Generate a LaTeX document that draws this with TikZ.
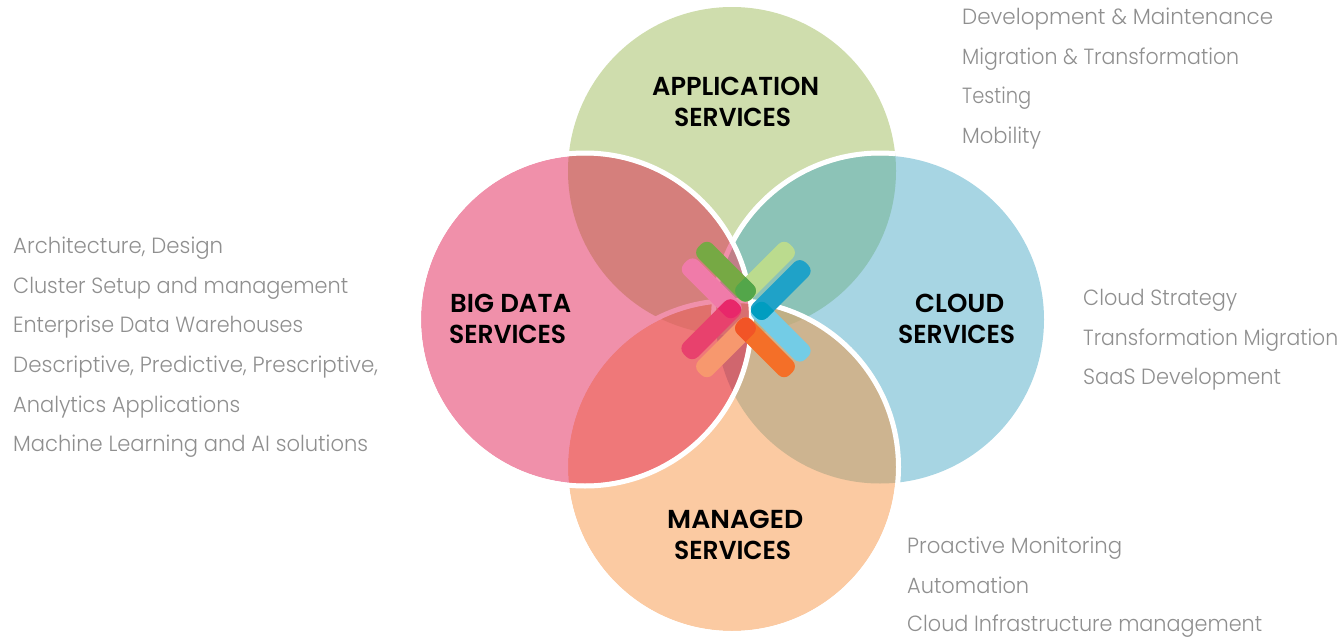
\documentclass[tikz,border=0pt]{standalone}
\usepackage{graphicx}
\usepackage{fontspec}
\setmainfont{Poppins Light}
\newfontfamily\boldf{Poppins SemiBold}
\definecolor{cP}{HTML}{F090AA}
\definecolor{cG}{HTML}{CFDDAD}
\definecolor{cB}{HTML}{A7D5E3}
\definecolor{cO}{HTML}{FBCAA2}
\definecolor{oPG}{HTML}{D57F7C}
\definecolor{oGB}{HTML}{8CC3B7}
\definecolor{oBO}{HTML}{CDB490}
\definecolor{oPO}{HTML}{EF7879}
\definecolor{oPGB}{HTML}{C07F88}
\definecolor{oPBO}{HTML}{D0666E}
\definecolor{oPGO}{HTML}{E0706B}
\definecolor{oGBO}{HTML}{C0B085}
\definecolor{oAll}{HTML}{D86F70}
\definecolor{txt}{HTML}{8F8F8F}
\definecolor{HTMLpink}{HTML}{F07BA9}
\definecolor{HTMLlg}{HTML}{BBDB8E}
\definecolor{HTMLcy}{HTML}{73CCE6}
\definecolor{HTMLlo}{HTML}{F7986E}
\definecolor{HTMLdg}{HTML}{76A944}
\definecolor{HTMLbl}{HTML}{1FA2C8}
\definecolor{HTMLor}{HTML}{F46F28}
\definecolor{HTMLcr}{HTML}{E8416D}
\definecolor{HTMLdgx}{HTML}{53A64A}
\definecolor{HTMLblx}{HTML}{009DC0}
\definecolor{HTMLorx}{HTML}{F25426}
\definecolor{HTMLcrx}{HTML}{E8276A}
\def\cirP{(585,319.5) circle[radius=164]}
\def\cirG{(732,171) circle[radius=164]}
\def\cirB{(880,319.5) circle[radius=164]}
\def\cirO{(732,467) circle[radius=164]}
\def\rinP{(585,319.5) circle[radius=166.5]}
\def\rinB{(880,319.5) circle[radius=166.5]}
\def\rinO{(732,467) circle[radius=166.5]}
\newcommand{\fitw}[2]{\sbox0{#2}\pgfmathsetmacro\sxx{#1/(\wd0/1pt)}\scalebox{\sxx}[1]{\usebox0}}
\newcommand{\overlapB}[3]{\begin{scope}\clip #1;\fill[#3] #2;\end{scope}}
\newcommand{\overlapC}[4]{\begin{scope}\clip #1;\clip #2;\fill[#4] #3;\end{scope}}
\tikzset{
  grey/.style={anchor=base west,inner sep=0pt,text=txt,font=\fontsize{22}{24}\selectfont},
  head/.style={anchor=base west,inner sep=0pt,text=black,font=\boldf\fontsize{26}{28}\selectfont},
  ring/.style={line width=5pt,draw=white},
  barshape/.style={rounded corners=8pt}
}
\newcommand{\barfill}[4]{\fill[#4,barshape,shift={(#1,#2)},rotate=#3] (-37,-10) rectangle (37,10);}
\newcommand{\barover}[7]{\begin{scope}\clip[barshape,shift={(#1,#2)},rotate=#3] (-37,-10) rectangle (37,10);\barfill{#4}{#5}{#6}{#7}\end{scope}}
\begin{document}
\begin{tikzpicture}[x=1pt,y=-1pt]
\useasboundingbox (0,0) rectangle (1344,637);
\fill[cG] \cirG;
\fill[cB] \cirB;
\overlapB{\cirG}{\cirB}{oGB}
\begin{scope}\clip \cirG;\draw[ring] \rinB;\end{scope}
\fill[cO] \cirO;
\overlapB{\cirO}{\cirB}{oBO}
\overlapC{\cirO}{\cirG}{\cirB}{oGBO}
\draw[ring] \rinO;
\fill[cP] \cirP;
\overlapB{\cirP}{\cirG}{oPG}
\overlapB{\cirP}{\cirO}{oPO}
\overlapC{\cirP}{\cirG}{\cirB}{oPGB}
\overlapC{\cirP}{\cirO}{\cirB}{oPBO}
\overlapC{\cirP}{\cirG}{\cirO}{oPGO}
\begin{scope}\clip \cirP;\clip \cirG;\clip \cirO;\overlapB{\cirB}{\cirP}{oAll}\end{scope}
\begin{scope}\clip \cirP;\clip \cirG;\draw[line width=5pt,draw=cP] \rinB;\end{scope}
\begin{scope}\clip \cirP;\draw[line width=5pt,draw=cP] \rinO;\end{scope}
\draw[ring] \rinP;
% bars
\barfill{711.7}{288.3}{-45}{HTMLpink}
\barfill{765}{271.7}{45}{HTMLlg}
\barfill{780.7}{331.7}{-45}{HTMLcy}
\barfill{726}{347.3}{45}{HTMLlo}
\barfill{726}{271.7}{-45}{HTMLdg}
\barfill{780.7}{290}{45}{HTMLbl}
\barfill{765}{347.3}{-45}{HTMLor}
\barfill{711.3}{329.3}{45}{HTMLcr}
\barover{726}{271.7}{-45}{765}{271.7}{45}{HTMLdgx}
\barover{780.7}{290}{45}{780.7}{331.7}{-45}{HTMLblx}
\barover{765}{347.3}{-45}{726}{347.3}{45}{HTMLorx}
\barover{711.3}{329.3}{45}{711.7}{288.3}{-45}{HTMLcrx}
% headings
\node[head] (h1a) at (652,95) {\fitw{167}{APPLICATION}};
\node[head] (h1b) at (674,126) {\fitw{117}{SERVICES}};
\node[head] (h2a) at (450,312) {\fitw{121}{BIG DATA}};
\node[head] (h2b) at (449,343) {\fitw{117}{SERVICES}};
\node[head] (h3a) at (915,312) {\fitw{89}{CLOUD}};
\node[head] (h3b) at (898,343) {\fitw{117}{SERVICES}};
\node[head] (h4a) at (667,528) {\fitw{136}{MANAGED}};
\node[head] (h4b) at (674,559) {\fitw{117}{SERVICES}};
% lists
\node[grey] (a1) at (962,24) {\fitw{311}{Development \& Maintenance}};
\node[grey] (a2) at (962,64) {\fitw{277}{Migration \& Transformation}};
\node[grey] (a3) at (962,103) {\fitw{69}{Testing}};
\node[grey] (a4) at (962,143) {\fitw{79}{Mobility}};
\node[grey] (b1) at (13,253) {\fitw{210}{Architecture, Design}};
\node[grey] (b2) at (13,293) {\fitw{335}{Cluster Setup and management}};
\node[grey] (b3) at (13,332) {\fitw{290}{Enterprise Data Warehouses}};
\node[grey] (b4) at (13,372) {\fitw{365}{Descriptive, Predictive, Prescriptive,}};
\node[grey] (b5) at (13,412) {\fitw{227}{Analytics Applications}};
\node[grey] (b6) at (13,451) {\fitw{355}{Machine Learning and AI solutions}};
\node[grey] (c1) at (1083,305.5) {\fitw{154}{Cloud Strategy}};
\node[grey] (c2) at (1083,345.5) {\fitw{255}{Transformation Migration}};
\node[grey] (c3) at (1083,384.5) {\fitw{198}{SaaS Development}};
\node[grey] (d1) at (907,553.5) {\fitw{215}{Proactive Monitoring}};
\node[grey] (d2) at (907,593.5) {\fitw{122}{Automation}};
\node[grey] (d3) at (907,631.5) {\fitw{355}{Cloud Infrastructure management}};
\end{tikzpicture}
\end{document}
